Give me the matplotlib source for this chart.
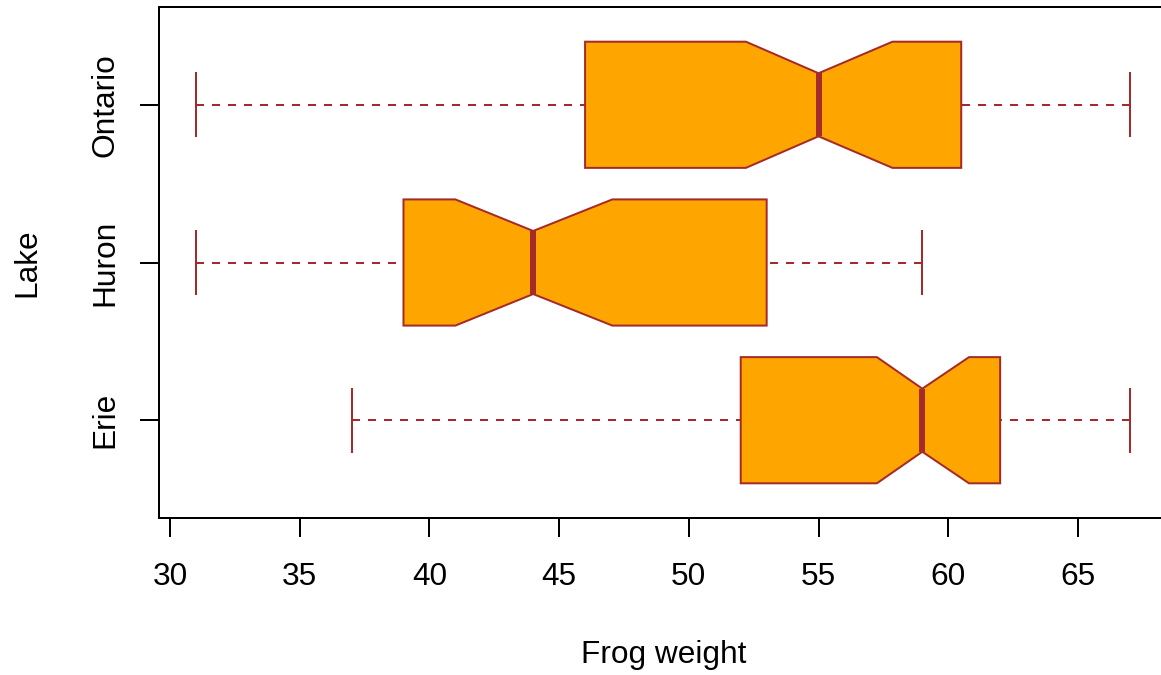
import matplotlib
matplotlib.use('Agg')
import matplotlib.pyplot as plt

plt.rcParams['font.family'] = ['Liberation Sans', 'DejaVu Sans']

# five-number summaries per lake (bottom to top)
lakes = ['Erie', 'Huron', 'Ontario']
whis_lo = [37, 31, 31]
q1 = [52, 39, 46]
med = [59, 44, 55]
q3 = [62, 53, 60.5]
whis_hi = [67, 59, 67]
notch_lo = [57.25, 41.0, 52.2]
notch_hi = [60.8, 47.05, 57.85]

edge = '#A52A2A'
fill = '#FFA500'

stats = []
for i in range(len(lakes)):
    stats.append(dict(label=lakes[i], whislo=whis_lo[i], q1=q1[i], med=med[i],
                      q3=q3[i], whishi=whis_hi[i], cilo=notch_lo[i],
                      cihi=notch_hi[i], fliers=[]))

fig = plt.figure(figsize=(11.61, 6.75), dpi=100)
ax = fig.add_axes([158.6 / 1161, 157 / 675, 1008.6 / 1161, 511 / 675])

bp = ax.bxp(stats, positions=[1, 2, 3], widths=0.8, capwidths=0.4,
            orientation='horizontal', shownotches=True, showfliers=False,
            patch_artist=True,
            boxprops=dict(facecolor=fill, edgecolor=edge, linewidth=1.44),
            medianprops=dict(color=edge, linewidth=4.3, solid_capstyle='butt'),
            whiskerprops=dict(color=edge, linewidth=1.44, linestyle=(0, (4, 4))),
            capprops=dict(color=edge, linewidth=1.44))

# dash pattern starts at the cap end, not at the box
for w in bp['whiskers']:
    w.set_xdata(w.get_xdata()[::-1])

ax.set_xlim(29.56, 68.44)
ax.set_ylim(0.38, 3.62)
ax.set_xticks([30, 35, 40, 45, 50, 55, 60, 65])
ax.set_yticks([1, 2, 3])
ax.set_yticklabels(lakes, rotation=90, va='center')

for s in ax.spines.values():
    s.set_linewidth(1.44)
ax.tick_params(axis='both', length=13.7, width=1.44, labelsize=22.8)
ax.tick_params(axis='x', pad=18)
ax.tick_params(axis='y', pad=14)

fig.text(664 / 1161, 1 - 655 / 675, 'Frog weight', fontsize=22.8, ha='center', va='center')
fig.text(27 / 1161, 1 - 263 / 675, 'Lake', fontsize=22.8, ha='center', va='center', rotation=90)

fig.savefig('out.png', dpi=100)
